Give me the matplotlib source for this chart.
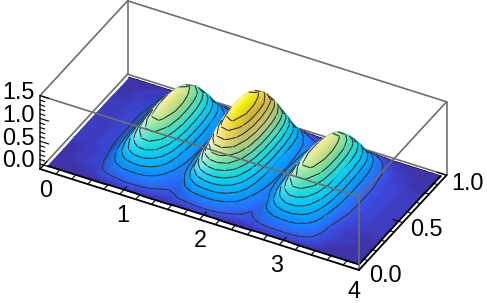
"""Surface with three ridges, box frame and contour lines, as a boxed 3D plot."""

import contourpy
import numpy as np
import matplotlib
matplotlib.use("Agg")
import matplotlib.pyplot as plt
from matplotlib.collections import LineCollection
from matplotlib.colors import LinearSegmentedColormap
from mpl_toolkits.mplot3d import proj3d

plt.rcParams["font.family"] = ["Liberation Sans", "DejaVu Sans"]

x_vals = np.round(np.arange(1, 41) * 0.1, 1)
y_vals = np.array([0, .03, .06, .1, .14, .18, .23, .3, .38, .47, .56, .64, .72, .78, .83, .87, .9, .93])
z_rows = [
    [.01, .01, .01, .01, .01, .01, .01, .01, .02, .02, .02, .02, .01, .01, .01, .01, .02, .02, .02, .02, .02, .02, .01, .01, .01, .01, .02, .02, .02, .02, .02, .01, .01, .01, .01, .01, .01, .01, .01, .01],
    [.01, .01, .01, .01, .01, .01, .02, .03, .03, .04, .04, .03, .03, .02, .02, .03, .03, .04, .05, .05, .05, .04, .03, .02, .02, .02, .03, .03, .04, .04, .04, .03, .03, .02, .01, .01, .01, .01, .01, .01],
    [.01, .01, .01, .01, .02, .02, .04, .05, .06, .07, .07, .07, .06, .05, .04, .05, .07, .08, .09, .09, .09, .08, .06, .05, .04, .05, .06, .07, .07, .07, .07, .06, .05, .03, .02, .01, .01, .01, .01, .01],
    [.01, .01, .01, .02, .02, .03, .07, .10, .13, .14, .14, .13, .10, .07, .06, .07, .12, .17, .19, .20, .19, .15, .10, .07, .05, .07, .10, .13, .14, .14, .13, .10, .07, .04, .02, .02, .01, .01, .01, .01],
    [.01, .01, .02, .02, .03, .04, .10, .17, .24, .27, .28, .24, .17, .10, .07, .11, .21, .31, .37, .39, .36, .27, .18, .10, .06, .10, .17, .23, .27, .27, .23, .16, .09, .05, .03, .02, .02, .01, .01, .01],
    [.01, .01, .02, .02, .03, .05, .13, .24, .35, .42, .43, .36, .25, .14, .08, .15, .31, .47, .58, .61, .54, .41, .26, .13, .08, .13, .24, .34, .42, .42, .35, .23, .12, .05, .03, .02, .02, .01, .01, .01],
    [.01, .01, .02, .02, .03, .06, .17, .31, .46, .57, .59, .50, .35, .19, .11, .21, .43, .67, .83, .86, .76, .57, .36, .18, .10, .16, .31, .47, .58, .57, .47, .31, .15, .06, .03, .02, .02, .01, .01, .01],
    [.02, .02, .02, .03, .04, .07, .21, .39, .58, .73, .75, .64, .45, .24, .13, .26, .56, .86, 1.07, 1.10, .98, .74, .46, .22, .13, .21, .40, .60, .74, .74, .61, .40, .19, .07, .04, .03, .02, .02, .02, .02],
    [.02, .02, .02, .03, .04, .08, .24, .45, .67, .85, .87, .74, .52, .28, .15, .31, .65, 1.00, 1.25, 1.28, 1.13, .86, .54, .26, .15, .24, .47, .70, .86, .86, .71, .47, .22, .08, .05, .03, .03, .02, .02, .02],
    [.02, .02, .02, .03, .04, .08, .26, .48, .72, .91, .94, .80, .56, .30, .16, .33, .70, 1.08, 1.34, 1.38, 1.22, .92, .58, .28, .16, .26, .50, .75, .93, .92, .76, .50, .24, .09, .05, .03, .03, .02, .02, .02],
    [.02, .02, .02, .03, .04, .08, .26, .48, .72, .91, .94, .80, .56, .30, .16, .33, .70, 1.08, 1.33, 1.37, 1.22, .92, .58, .28, .16, .26, .50, .75, .93, .92, .76, .50, .24, .09, .05, .03, .03, .02, .02, .02],
    [.02, .02, .02, .03, .04, .08, .25, .46, .69, .87, .90, .77, .54, .29, .15, .32, .67, 1.04, 1.29, 1.32, 1.17, .88, .56, .27, .15, .25, .48, .72, .89, .88, .73, .48, .23, .09, .05, .03, .03, .02, .02, .02],
    [.02, .02, .02, .03, .03, .07, .23, .42, .63, .79, .82, .70, .49, .26, .14, .29, .61, .94, 1.17, 1.20, 1.06, .80, .50, .24, .14, .23, .44, .65, .81, .80, .66, .44, .21, .08, .04, .03, .03, .02, .02, .02],
    [.01, .01, .02, .02, .03, .06, .19, .36, .53, .67, .70, .59, .41, .22, .12, .24, .52, .80, .99, 1.02, .90, .68, .43, .21, .12, .19, .37, .56, .69, .68, .56, .37, .18, .07, .04, .02, .02, .01, .01, .01],
    [.01, .01, .02, .02, .02, .05, .15, .27, .40, .51, .53, .45, .31, .17, .09, .18, .39, .60, .75, .77, .68, .52, .32, .16, .09, .15, .28, .42, .52, .52, .43, .28, .13, .05, .03, .02, .02, .01, .01, .01],
    [.01, .01, .01, .02, .02, .03, .09, .16, .24, .31, .32, .27, .19, .10, .06, .11, .24, .37, .46, .47, .41, .31, .20, .10, .06, .09, .17, .26, .32, .31, .26, .17, .08, .03, .02, .02, .01, .01, .01, .01],
    [.01, .01, .01, .01, .02, .02, .05, .08, .12, .15, .16, .14, .10, .06, .04, .06, .12, .18, .23, .23, .21, .16, .10, .05, .04, .05, .09, .13, .16, .16, .13, .09, .04, .02, .02, .01, .01, .01, .01, .01],
    [.01, .01, .01, .01, .01, .01, .02, .03, .04, .05, .05, .04, .03, .02, .02, .02, .04, .05, .07, .07, .06, .05, .03, .02, .01, .02, .03, .04, .05, .05, .04, .03, .02, .01, .01, .01, .01, .01, .01, .01],
]
contour_levels = [.06, .17, .28, .39, .50, .61, .72, .83, .94, 1.05, 1.16, 1.27]
x_ticks = [0, 1, 2, 3, 4]
y_ticks = [0.0, 0.5, 1.0]
z_ticks = [0.0, 0.5, 1.0, 1.5]
z_min, z_max = -0.11, 1.5

color_heights = [0.0, 0.03, 0.08, 0.18, 0.33, 0.47, 0.62, 0.77, 0.90, 1.05, 1.20, 1.30, 1.38]
color_values = ["#3f2f9e", "#3d48dc", "#2f6cff", "#0a90ff", "#00b4ff", "#00d4f5", "#30e4d0",
                "#80e8a0", "#e8f090", "#ffe070", "#ffd850", "#ffee20", "#ffff00"]

Z = np.array(z_rows)
cmap = LinearSegmentedColormap.from_list(
    "surface", [(h / 1.38, c) for h, c in zip(color_heights, color_values)])

fig = plt.figure(figsize=(4.87, 3.03), dpi=100)

# the 3D axes only supplies the projection, everything is drawn on the 2D overlay
ax3d = fig.add_axes([0, 0, 1, 1], projection="3d")
ax3d.set_axis_off()
ax3d.set_proj_type("ortho")
ax3d.view_init(elev=35.9, azim=-61.6)
ax3d.set_box_aspect((362.5, 184, 90.7))
ax3d.set_xlim(0, 4)
ax3d.set_ylim(0, 1)
ax3d.set_zlim(z_min, z_max)
M = ax3d.get_proj()


def project(x, y, z):
    x, y, z = np.broadcast_arrays(np.asarray(x, float), np.asarray(y, float), np.asarray(z, float))
    u, v, _ = proj3d.proj_transform(x.ravel(), y.ravel(), z.ravel(), M)
    return np.reshape(u, x.shape), np.reshape(v, x.shape)


ax = fig.add_axes([0, 0, 1, 1])
ax.set_axis_off()
ua, va = project(0, 0, z_min)
ub, vb = project(4, 0, z_min)
kx = (359 - 40) / (ub - ua)
ky = (270 - 169) / (va - vb)
ax.set_xlim(ua - 40 / kx, ua + (487 - 40) / kx)
ax.set_ylim(va - (303 - 169) / ky, va + 169 / ky)


def edge(p, q, color="#6e6e6e", lw=1.2, zorder=0):
    u, v = project([p[0], q[0]], [p[1], q[1]], [p[2], q[2]])
    ax.plot(u, v, color=color, lw=lw, zorder=zorder, solid_capstyle="round")


# box edges behind the surface
edge((0, 1, z_min), (0, 1, z_max))
edge((4, 1, z_min), (4, 1, z_max))
edge((0, 1, z_max), (4, 1, z_max))
edge((0, 0, z_max), (0, 1, z_max))
edge((0, 0, z_min), (0, 1, z_min))
edge((0, 1, z_min), (4, 1, z_min))

# colour from height, then a light from the low-x side
XX, YY = np.meshgrid(x_vals, y_vals)
dzdy, dzdx = np.gradient(Z, y_vals, x_vals)
rgb = cmap(np.clip(Z / 1.38, 0, 1))[..., :3]
white = (np.clip(0.3 * dzdx, 0, 0.7) * np.clip((Z - 0.28) / 0.3, 0, 1))[..., None]
dark = (1 - np.clip(-0.08 * dzdx, 0, 0.22) * np.clip((Z - 0.6) / 0.4, 0, 1)
        - np.clip(0.35 * dzdx, 0, 0.3) * np.clip((0.22 - Z) / 0.22, 0, 1))[..., None]
rgb = np.clip((rgb * (1 - white) + white) * dark, 0, 1)

U, V = project(XX, YY, Z)

# segments of every contour, binned into the x strip they belong to
strip_segments = [[] for _ in range(len(x_vals) - 1)]
gen = contourpy.contour_generator(x_vals, y_vals, Z)
for level in contour_levels:
    for line in gen.lines(level):
        lu, lv = project(line[:, 0], line[:, 1], level)
        pts = np.column_stack([lu, lv])
        for k in range(len(line) - 1):
            mid = 0.5 * (line[k, 0] + line[k + 1, 0])
            i = int(np.clip(np.searchsorted(x_vals, mid) - 1, 0, len(x_vals) - 2))
            strip_segments[i].append(pts[k:k + 2])

# painter's order: low x is furthest from the viewer
for i in range(len(x_vals) - 1):
    ax.pcolormesh(U[::-1, i:i + 2], V[::-1, i:i + 2], rgb[::-1, i:i + 2],
                  shading="gouraud", zorder=1 + 2 * i)
    ax.add_collection(LineCollection(strip_segments[i], colors="#333333",
                                     linewidths=0.8, zorder=2 + 2 * i))
    # far edge of the surface
    ax.plot(U[-1, i:i + 2], V[-1, i:i + 2], color="black", lw=1.5, zorder=0.5)

top = 200
ax.plot(U[0], V[0], color="black", lw=1.3, zorder=top)
ax.plot(U[:, -1], V[:, -1], color="black", lw=1.3, zorder=top)

# box edges in front of the surface
edge((0, 0, z_max), (4, 0, z_max), zorder=top)
edge((4, 0, z_max), (4, 1, z_max), zorder=top)
edge((4, 0, z_min), (4, 0, z_max), zorder=top)
edge((0, 0, z_min), (0, 0, z_max), color="#333333", zorder=top)
edge((0, 0, z_min), (4, 0, z_min), color="black", lw=1.3, zorder=top)
edge((4, 0, z_min), (4, 1, z_min), color="black", lw=1.3, zorder=top)

# ticks along the three axes, labelled ones longer
for t in np.arange(0, 21):
    v = t * 0.2
    major = t % 5 == 0
    edge((v, 0, z_min), (v, 0.08 if major else 0.05, z_min), color="black", lw=0.8, zorder=top)
for t in np.arange(0, 11):
    v = t * 0.1
    major = t % 5 == 0
    edge((4, v, z_min), (3.88 if major else 3.94, v, z_min), color="black", lw=0.8, zorder=top)
for t in np.arange(0, 16):
    v = t * 0.1
    major = t % 5 == 0
    edge((0, 0, v), (0.11 if major else 0.06, 0, v), color="black", lw=0.8, zorder=top)

label_kw = dict(fontsize=16.8, ha="center", va="center", textcoords="offset pixels", zorder=top)
for k, t in enumerate(x_ticks):
    u, v = project(t, 0, z_min)
    ax.annotate(f"{t}", (u, v), xytext=(6 - 2.75 * k, -21), **label_kw)
for t in y_ticks:
    u, v = project(4, t, z_min)
    ax.annotate(f"{t:.1f}", (u, v), xytext=(26 - 5 * t, -5 - 3 * t), **label_kw)
for t in z_ticks:
    u, v = project(0, 0, t)
    ax.annotate(f"{t:.1f}", (u, v), xytext=(-22, 3), **label_kw)

fig.savefig("out.png", dpi=100)
